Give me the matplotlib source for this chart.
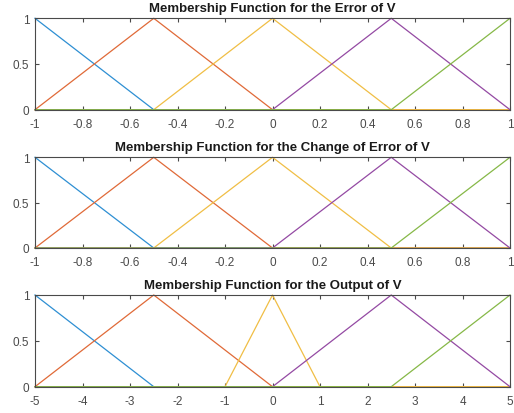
import numpy as np
import matplotlib
matplotlib.use("Agg")
import matplotlib.pyplot as plt

plt.rcParams['font.family'] = ['Liberation Sans', 'DejaVu Sans']

# Triangular membership function parameters [a, b, c]
error_mf = [[-1.5, -1.0, -0.5], [-1.0, -0.5, 0.0], [-0.5, 0.0, 0.5], [0.0, 0.5, 1.0], [0.5, 1.0, 1.5]]
derror_mf = [[-1.5, -1.0, -0.5], [-1.0, -0.5, 0.0], [-0.5, 0.0, 0.5], [0.0, 0.5, 1.0], [0.5, 1.0, 1.5]]
output_mf = [[-7.5, -5.0, -2.5], [-5.0, -2.5, 0.0], [-1.0, 0.0, 1.0], [0.0, 2.5, 5.0], [2.5, 5.0, 7.5]]

error_range = [-1, 1]
derror_range = [-1, 1]
output_range = [-5, 5]

error_xticks = [-1, -0.8, -0.6, -0.4, -0.2, 0, 0.2, 0.4, 0.6, 0.8, 1]
error_xlabels = ['-1', '-0.8', '-0.6', '-0.4', '-0.2', '0', '0.2', '0.4', '0.6', '0.8', '1']
output_xticks = [-5, -4, -3, -2, -1, 0, 1, 2, 3, 4, 5]
output_xlabels = ['-5', '-4', '-3', '-2', '-1', '0', '1', '2', '3', '4', '5']
yticks = [0, 0.5, 1]
ylabels = ['0', '0.5', '1']

titles = ['Membership Function for the Error of V',
          'Membership Function for the Change of Error of V',
          'Membership Function for the Output of V']

colors = ['#2E8FD3', '#E06A38', '#F0BE45', '#944AA3', '#86B847']


def trimf(x, p):
    a, b, c = p
    y = np.zeros_like(x)
    left = (x >= a) & (x <= b)
    right = (x >= b) & (x <= c)
    if b > a:
        y[left] = (x[left] - a) / (b - a)
    if c > b:
        y[right] = (c - x[right]) / (c - b)
    y[x == b] = 1.0
    return np.clip(y, 0, 1)


fig = plt.figure(figsize=(5.14, 4.14), dpi=100)
W, H = 514, 414
boxes = [(19.3, 110.7), (158.3, 249.0), (296.0, 387.7)]
left, right = 35, 510

configs = [
    (error_mf, error_range, error_xticks, error_xlabels),
    (derror_mf, derror_range, error_xticks, error_xlabels),
    (output_mf, output_range, output_xticks, output_xlabels),
]

axc = '#4a4a4a'
for (top, bot), (mfs, rng, xt, xl), title in zip(boxes, configs, titles):
    ax = fig.add_axes([left / W, 1 - bot / H, (right - left) / W, (bot - top) / H])
    x = np.linspace(rng[0], rng[1], 2001)
    for p, c in zip(mfs, colors):
        ax.plot(x, trimf(x, p), color=c, lw=0.9, clip_on=False)
    ax.set_xlim(rng)
    ax.set_ylim(0, 1)
    ax.set_xticks(xt)
    ax.set_xticklabels(xl)
    ax.set_yticks(yticks)
    ax.set_yticklabels(ylabels)
    ax.tick_params(axis='x', direction='in', top=True, length=3, width=0.8,
                   colors=axc, labelsize=8.5, labelcolor=axc, pad=6)
    ax.tick_params(axis='y', direction='in', right=True, length=3, width=0.8,
                   colors=axc, labelsize=8.5, labelcolor=axc, pad=4)
    for s in ax.spines.values():
        s.set_color(axc)
        s.set_linewidth(0.8)
    ax.set_title(title, fontsize=9.5, fontweight='bold', pad=5, color='#1a1a1a')

fig.savefig('out.png', dpi=100)
